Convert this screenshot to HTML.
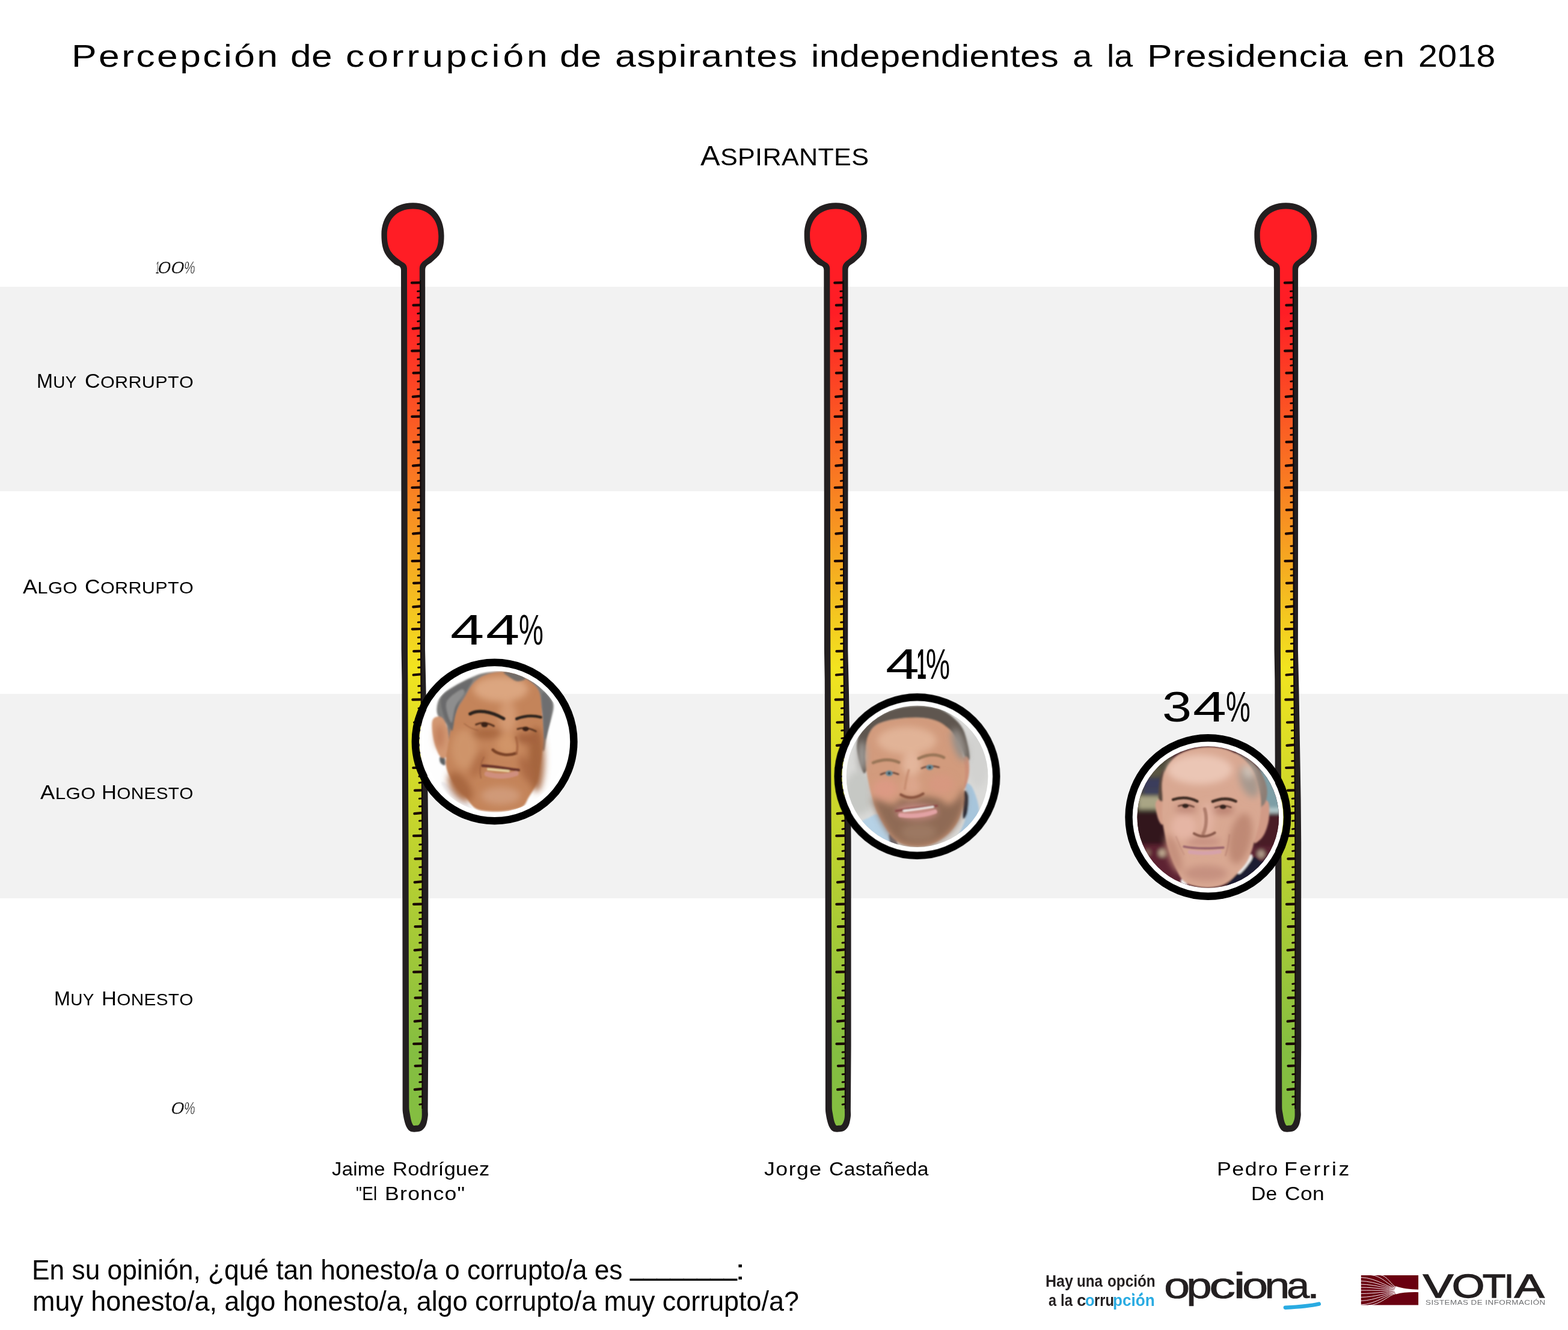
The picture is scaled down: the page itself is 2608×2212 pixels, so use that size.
<!DOCTYPE html>
<html lang="es">
<head>
<meta charset="utf-8">
<title>Percepción de corrupción de aspirantes independientes a la Presidencia en 2018</title>
<style>
html,body{margin:0;padding:0;background:#fff;}
body{width:2608px;height:2212px;overflow:hidden;}
#page{position:relative;width:2608px;height:2212px;overflow:hidden;background:#fff;
  font-family:"Liberation Sans",sans-serif;color:#000;font-kerning:none;}
.band{position:absolute;left:0;width:2608px;background:#f2f2f2;}
#art{position:absolute;left:0;top:0;}
.t{position:absolute;white-space:nowrap;line-height:1;margin:0;padding:0;font-weight:400;transform-origin:0 50%;}
h1,h2,p,ul,li,figure,figcaption{margin:0;padding:0;font-weight:400;font-size:inherit;list-style:none;}
</style>
</head>
<body>
<div id="page">
<div class="band" style="top:477.0px;height:340.0px"></div>
<div class="band" style="top:1154.0px;height:340.0px"></div>
<svg id="art" width="2608" height="2212" viewBox="0 0 2608 2212">
<defs>
<linearGradient id="heat" gradientUnits="userSpaceOnUse" x1="0" y1="445" x2="0" y2="1872">
<stop offset="0" stop-color="#ff1d25"/>
<stop offset="0.0526" stop-color="#ff1d25"/>
<stop offset="0.466" stop-color="#f2e41f"/>
<stop offset="0.9145" stop-color="#84be41"/>
<stop offset="1" stop-color="#84be41"/>
</linearGradient>
<filter id="b1" x="-20%" y="-20%" width="140%" height="140%"><feGaussianBlur stdDeviation="1"/></filter>
<filter id="b2" x="-20%" y="-20%" width="140%" height="140%"><feGaussianBlur stdDeviation="1.6"/></filter>
<filter id="b3" x="-20%" y="-20%" width="140%" height="140%"><feGaussianBlur stdDeviation="3"/></filter>
<filter id="b6" x="-30%" y="-30%" width="160%" height="160%"><feGaussianBlur stdDeviation="6"/></filter>
<filter id="b10" x="-40%" y="-40%" width="180%" height="180%"><feGaussianBlur stdDeviation="10"/></filter>
</defs>
<defs><g id="thermo"><path d="M686.8 337.3C719.4 337.3 738.6 359.6 738.6 392.3C738.6 420.0 730.2 425.4 717.5 436.5C712.5 440.3 707.5 441.0 707.2 449.0L707.2 810.0L707.0 1080.0L708.6 1150.0L711.7 1330.0L712.3 1400.0L712.3 1740.0L711.6 1846.2C711.6 1850.5 712.2 1852.6 711.6 1856.9C711.0 1861.2 710.0 1868.3 708.1 1872.3C706.2 1876.3 703.6 1879.1 700.4 1880.8C697.2 1882.5 692.1 1882.7 688.9 1882.7C685.7 1882.7 683.4 1882.3 681.2 1880.8C679.0 1879.3 677.2 1876.5 675.8 1873.8C674.4 1871.1 673.6 1868.0 672.7 1864.6C671.8 1861.1 670.9 1856.6 670.4 1853.1C669.9 1849.6 669.6 1847.5 669.6 1843.8L669.6 1700.0L669.2 1400.0L668.4 1130.0L667.6 1080.0L667.4 810.0L667.0 449.0C666.7 441.0 661.5 443.0 656.5 439.5C643.2 427.7 634.4 419.8 634.4 390.3C634.4 359.6 653.8 337.3 686.8 337.3Z" fill="#231f20"/><path d="M686.8 347.4C713.6 347.4 729.3 365.6 729.3 392.8C729.3 417.2 720.8 421.7 708.0 431.5C703.0 435.3 698.1 438.5 697.8 446.5L698.4 810.0L699.0 1080.0L699.8 1150.0L701.5 1330.0L702.0 1400.0L702.2 1740.0L701.6 1841.5C701.6 1847.7 701.9 1853.1 701.6 1856.9C701.3 1860.8 700.8 1862.3 700.0 1864.6C699.2 1866.9 698.1 1869.6 696.6 1870.8C695.1 1872.0 692.8 1871.7 691.2 1871.8C689.7 1871.9 688.5 1872.6 687.3 1871.4C686.1 1870.2 685.1 1867.6 684.2 1864.6C683.3 1861.5 682.5 1856.9 681.9 1853.1C681.3 1849.2 680.4 1846.1 680.4 1841.5L680.0 1700.0L679.5 1400.0L678.3 1130.0L678.0 1080.0L677.6 810.0L677.0 446.5C676.7 438.5 671.0 437.0 666.0 433.5C652.7 423.3 643.8 416.4 643.8 390.8C643.8 365.6 659.7 347.4 686.8 347.4Z" fill="url(#heat)"/><path d="M685.0 470.4 L697.6 470.1 M687.5 507.6 L697.7 507.3 M686.7 546.6 L697.7 545.6 M685.2 583.7 L697.8 583.4 M687.6 620.4 L697.8 620.1 M686.8 659.9 L697.8 658.9 M685.3 692.9 L697.9 692.6 M687.7 735.1 L697.9 734.8 M687.0 774.6 L698.0 773.6 M685.4 811.0 L698.0 810.7 M687.9 848.2 L698.1 847.9 M687.1 887.6 L698.1 886.6 M685.6 933.1 L698.2 932.8 M688.0 969.8 L698.2 969.5 M687.3 1009.3 L698.3 1008.3 M685.8 1046.3 L698.4 1046.0 M688.2 1083.1 L698.4 1082.8 M687.7 1122.5 L698.7 1121.5 M686.4 1163.7 L699.0 1163.4 M689.1 1201.5 L699.3 1201.2 M688.6 1239.9 L699.6 1238.9 M687.3 1277.0 L699.9 1276.7 M690.0 1314.7 L700.2 1314.4 M689.4 1353.2 L700.4 1352.2 M688.0 1390.2 L700.6 1389.9 M690.5 1428.4 L700.7 1428.1 M689.7 1467.4 L700.7 1466.4 M688.1 1503.9 L700.7 1503.6 M690.5 1541.2 L700.7 1540.9 M689.7 1580.3 L700.7 1579.3 M688.1 1616.7 L700.7 1616.4 M690.6 1659.6 L700.8 1659.3 M689.8 1698.7 L700.8 1697.7 M688.2 1736.1 L700.8 1735.8 M690.6 1772.8 L700.8 1772.5 M689.8 1812.1 L700.8 1811.1" fill="none" stroke="#1a0606" stroke-width="4.2" stroke-linecap="round"/><path d="M694.6 484.5 L697.8 484.2 M694.7 495.0 L697.9 494.7 M694.7 521.4 L697.9 521.1 M694.7 534.4 L697.9 534.1 M694.7 558.8 L697.9 558.5 M694.7 572.4 L697.9 572.1 M694.8 597.6 L698.0 597.3 M694.8 607.9 L698.0 607.6 M694.8 634.4 L698.0 634.1 M694.8 647.6 L698.0 647.3 M694.8 670.7 L698.0 670.4 M694.9 682.8 L698.1 682.5 M694.9 712.3 L698.1 712.0 M694.9 723.3 L698.1 723.0 M694.9 749.1 L698.1 748.8 M694.9 762.3 L698.1 762.0 M695.0 786.5 L698.2 786.2 M695.0 799.9 L698.2 799.6 M695.0 825.1 L698.2 824.8 M695.0 835.6 L698.2 835.3 M695.1 862.1 L698.3 861.8 M695.1 875.3 L698.3 875.0 M695.1 908.2 L698.3 907.9 M695.2 920.2 L698.4 919.9 M695.2 947.0 L698.4 946.7 M695.2 957.3 L698.4 957.0 M695.3 983.8 L698.5 983.5 M695.3 997.0 L698.5 996.7 M695.3 1021.4 L698.5 1021.1 M695.3 1035.0 L698.5 1034.7 M695.4 1060.3 L698.6 1060.0 M695.4 1070.6 L698.6 1070.3 M695.5 1097.0 L698.7 1096.7 M695.6 1110.2 L698.8 1109.9 M695.8 1141.1 L699.0 1140.8 M695.9 1152.0 L699.1 1151.7 M696.1 1178.1 L699.3 1177.8 M696.2 1188.6 L699.4 1188.3 M696.4 1215.1 L699.6 1214.8 M696.5 1227.9 L699.7 1227.6 M696.7 1252.1 L699.9 1251.8 M696.8 1265.7 L700.0 1265.4 M697.0 1291.3 L700.2 1291.0 M697.1 1301.9 L700.3 1301.6 M697.3 1328.3 L700.5 1328.0 M697.4 1341.2 L700.6 1340.9 M697.5 1365.3 L700.7 1365.0 M697.6 1378.9 L700.8 1378.6 M697.7 1404.7 L700.9 1404.4 M697.7 1415.4 L700.9 1415.1 M697.7 1442.2 L700.9 1441.9 M697.7 1455.2 L700.9 1454.9 M697.7 1479.3 L700.9 1479.0 M697.7 1492.7 L700.9 1492.4 M697.7 1518.1 L700.9 1517.8 M697.7 1528.5 L700.9 1528.2 M697.7 1555.0 L700.9 1554.7 M697.7 1568.1 L700.9 1567.8 M697.7 1592.2 L700.9 1591.9 M697.7 1605.6 L700.9 1605.3 M697.8 1636.4 L701.0 1636.1 M697.8 1647.6 L701.0 1647.3 M697.8 1673.4 L701.0 1673.1 M697.8 1686.5 L701.0 1686.2 M697.8 1711.0 L701.0 1710.7 M697.8 1724.7 L701.0 1724.4 M697.8 1750.0 L701.0 1749.7 M697.8 1760.3 L701.0 1760.0 M697.8 1786.7 L701.0 1786.4 M697.8 1799.8 L701.0 1799.5 M697.8 1824.0 L701.0 1823.7 M697.8 1836.9 L701.0 1836.6" fill="none" stroke="#1a0606" stroke-width="3" stroke-linecap="round"/><path d="M699.3 466.0 L699.6 810.0 L700.0 1080.0 L700.5 1150.0 L701.9 1330.0 L702.3 1400.0 L702.4 1844.0" fill="none" stroke="#120808" stroke-width="1.8"/></g></defs>
<use href="#thermo" x="0.0" y="0"/>
<use href="#thermo" x="703.3" y="0"/>
<use href="#thermo" x="1451.9" y="0"/>
<g transform="translate(822.6 1233.5)">
<circle r="125" fill="#fff"/>
<clipPath id="cp0"><circle r="117.8"/></clipPath>
<g clip-path="url(#cp0)"><rect x="-120" y="-120" width="240" height="240" fill="#fefefe"/><g filter="url(#b2)"><path d="M-94.9 -44.9C-97.2 -51.2 -96.0 -60.2 -94.1 -66.2C-92.2 -72.3 -88.5 -76.4 -83.4 -81.0C-78.3 -85.7 -70.8 -90.1 -63.7 -94.2C-56.6 -98.3 -48.3 -102.4 -40.7 -105.7C-33.0 -109.0 -27.0 -112.0 -17.7 -113.9C-8.3 -115.8 5.9 -117.1 15.2 -117.2C24.5 -117.3 30.3 -117.2 38.2 -114.7C46.2 -112.3 55.8 -107.2 62.9 -102.4C70.0 -97.6 75.8 -91.2 81.0 -86.0C86.2 -80.8 91.3 -75.8 94.1 -71.2C97.0 -66.5 98.2 -63.5 98.2 -58.0C98.2 -52.5 95.9 -45.4 94.1 -38.3C92.4 -31.2 89.5 -24.0 87.6 -15.3C85.6 -6.5 84.1 11.0 82.6 14.3C81.1 17.6 79.6 17.1 78.5 4.5C77.4 -8.1 85.5 -45.7 76.0 -61.3C66.6 -76.9 40.7 -86.5 21.8 -89.2C2.9 -92.0 -23.7 -86.2 -37.4 -77.7C-51.1 -69.2 -55.2 -50.9 -60.4 -38.3C-65.6 -25.7 -65.9 -7.9 -68.6 -2.1C-71.4 3.6 -74.9 0.6 -76.8 -3.8C-78.8 -8.1 -77.1 -21.6 -80.1 -28.4C-83.1 -35.3 -92.6 -38.6 -94.9 -44.9Z" fill="#7d7d7c" /><path d="M-90.8 25.8C-89.7 24.5 -84.8 24.5 -83.4 26.6C-82.0 28.8 -81.5 37.6 -82.6 39.0C-83.7 40.3 -88.6 37.1 -90.0 34.9C-91.4 32.7 -91.9 27.2 -90.8 25.8Z" fill="#5c6062" /><path d="M-104.0 -31.7C-103.3 -37.1 -101.1 -39.5 -98.2 -40.8C-95.3 -42.0 -90.0 -42.3 -86.7 -39.1C-83.4 -36.0 -80.3 -29.1 -78.5 -21.8C-76.7 -14.6 -75.9 -3.2 -76.0 4.5C-76.2 12.1 -77.1 20.6 -79.3 24.2C-81.5 27.7 -86.3 27.7 -89.2 25.8C-92.0 23.9 -94.4 18.4 -96.6 12.7C-98.8 6.9 -101.1 -1.3 -102.3 -8.7C-103.6 -16.1 -104.6 -26.4 -104.0 -31.7Z" fill="#d39873" /><path d="M-88.3 70.2C-89.3 67.1 -87.2 65.5 -82.6 68.2C-77.9 71.0 -67.9 79.5 -60.4 86.7C-52.9 93.8 -37.9 108.6 -37.4 111.3C-36.8 114.1 -50.5 107.2 -57.1 103.1C-63.7 99.0 -71.6 92.1 -76.8 86.7C-82.0 81.2 -87.4 73.3 -88.3 70.2Z" fill="#eeeef2" /><path d="M-50.5 -72.8C-46.2 -79.9 -42.3 -88.3 -37.4 -94.2C-32.5 -100.1 -27.5 -104.6 -20.9 -108.2C-14.4 -111.7 -5.6 -114.5 2.1 -115.6C9.7 -116.6 16.9 -116.5 25.1 -114.7C33.3 -112.9 43.4 -109.7 51.4 -104.9C59.3 -100.1 68.1 -94.9 72.8 -86.0C77.4 -77.1 77.9 -63.8 79.3 -51.4C80.8 -39.1 81.4 -24.0 81.3 -12.0C81.2 0.1 79.8 10.5 78.5 20.9C77.2 31.3 75.2 42.0 73.6 50.5C71.9 59.0 71.5 64.7 68.7 71.9C65.8 79.0 60.0 87.2 56.3 93.2C52.6 99.3 52.2 104.4 46.5 108.0C40.7 111.6 30.8 113.6 21.8 114.9C12.8 116.2 1.2 116.7 -7.8 115.9C-16.8 115.2 -25.3 115.1 -32.5 110.5C-39.6 105.9 -44.2 95.8 -50.5 88.3C-56.8 80.8 -65.2 73.5 -70.3 65.3C-75.3 57.1 -79.7 48.6 -80.9 39.0C-82.2 29.4 -79.2 18.4 -77.7 7.7C-76.2 -2.9 -74.2 -15.3 -71.9 -25.1C-69.6 -35.0 -67.2 -43.5 -63.7 -51.4C-60.1 -59.4 -54.9 -65.7 -50.5 -72.8Z" fill="#c4845a" /></g><g filter="url(#b6)"><ellipse cx="10.3" cy="-87.6" rx="46.0" ry="21.4" fill="#dca680"/><ellipse cx="21.8" cy="-41.6" rx="14.8" ry="26.3" fill="#d49a72"/><ellipse cx="-50.5" cy="12.7" rx="21.4" ry="32.9" fill="#cf946a"/><ellipse cx="21.8" cy="4.5" rx="18.1" ry="18.1" fill="#d19468"/><ellipse cx="10.3" cy="89.9" rx="32.9" ry="14.8" fill="#d09a78"/><ellipse cx="69.5" cy="29.1" rx="13.2" ry="54.2" fill="#a5653e"/><ellipse cx="-57.1" cy="75.1" rx="14.8" ry="27.9" fill="#a9683f" transform="rotate(-35 -57.1 75.1)"/><ellipse cx="-12.7" cy="-13.6" rx="24.7" ry="9.0" fill="#a9673f"/><ellipse cx="54.7" cy="-5.4" rx="21.4" ry="9.0" fill="#a4623c"/><ellipse cx="-27.5" cy="37.3" rx="9.9" ry="24.7" fill="#b47148" transform="rotate(25 -27.5 37.3)"/><ellipse cx="51.4" cy="45.6" rx="8.2" ry="23.0" fill="#ad6a44" transform="rotate(-20 51.4 45.6)"/><ellipse cx="-91.6" cy="-8.7" rx="6.6" ry="19.7" fill="#c07c58"/></g><g filter="url(#b2)"><path d="M-88.3 -72.8C-85.1 -80.5 -73.8 -85.7 -65.3 -90.9C-56.8 -96.1 -40.9 -104.3 -37.4 -104.0C-33.8 -103.8 -40.7 -95.0 -44.0 -89.2C-47.2 -83.5 -53.5 -76.9 -57.1 -69.5C-60.7 -62.1 -63.1 -53.4 -65.3 -44.9C-67.5 -36.4 -68.3 -21.3 -70.3 -18.6C-72.2 -15.8 -74.4 -24.0 -76.8 -28.4C-79.3 -32.8 -83.1 -37.5 -85.1 -44.9C-87.0 -52.3 -91.6 -65.1 -88.3 -72.8Z" fill="#6b6b6c" /><path d="M-80.1 -64.6C-77.7 -73.6 -62.0 -83.2 -57.1 -86.0C-52.2 -88.7 -49.2 -85.7 -50.5 -81.0C-51.9 -76.4 -61.8 -66.2 -65.3 -58.0C-68.9 -49.8 -69.4 -30.6 -71.9 -31.7C-74.4 -32.8 -82.6 -55.5 -80.1 -64.6Z" fill="#8e8e8e" /><path d="M79.3 -81.0C81.4 -87.3 91.9 -73.4 94.1 -66.2C96.3 -59.1 94.1 -48.7 92.5 -38.3C90.8 -27.9 86.0 -5.4 84.3 -3.8C82.5 -2.1 82.6 -15.5 81.8 -28.4C81.0 -41.3 77.3 -74.7 79.3 -81.0Z" fill="#6e6e70" /><path d="M15.2 -115.9C17.1 -117.0 30.6 -115.7 36.6 -113.9C42.6 -112.1 51.1 -107.1 51.4 -104.9C51.7 -102.6 42.6 -100.1 38.2 -100.4C33.9 -100.8 28.9 -104.4 25.1 -107.0C21.3 -109.6 13.3 -114.7 15.2 -115.9Z" fill="#726c68" /></g><g filter="url(#b1)"><path d="M-40.7 -46.2C-27.5 -53.4 -7.8 -51.4 15.2 -38.3" fill="none" stroke="#2b221d" stroke-width="5.3" stroke-linecap="round"/><path d="M36.6 -38.0C51.4 -43.9 64.5 -43.9 76.9 -40.6" fill="none" stroke="#2b221d" stroke-width="4.6" stroke-linecap="round"/><path d="M-30.8 -28.4Q-17.7 -34.7 -1.2 -26.0" fill="none" stroke="#5a3424" stroke-width="3.3" stroke-linecap="round"/><ellipse cx="-16.7" cy="-28.4" rx="5.6" ry="4.3" fill="#3a2016"/><path d="M38.2 -21.0Q52.2 -26.0 68.7 -17.2" fill="none" stroke="#5a3424" stroke-width="3.0" stroke-linecap="round"/><ellipse cx="51.7" cy="-21.2" rx="5.3" ry="3.9" fill="#3a2016"/><path d="M-50.5 -30.1Q-40.7 -21.8 -27.5 -18.6" fill="none" stroke="#9a5c3a" stroke-width="1.6" stroke-linecap="round" opacity="0.7"/><path d="M-2.9 13.5C5.4 21.7 23.4 24.2 35.8 19.3" fill="none" stroke="#7a4228" stroke-width="4.9" stroke-linecap="round"/><path d="M35.8 -7.1Q39.9 7.7 36.6 19.3" fill="none" stroke="#a5633e" stroke-width="3.9" stroke-linecap="round" opacity="0.8"/><path d="M-20.1 40.0C2.1 40.6 21.8 45.6 40.2 47.2" fill="none" stroke="#6b3629" stroke-width="4.3" stroke-linecap="round"/><path d="M-11.1 45.9Q5.4 47.2 23.4 48.8" fill="none" stroke="#ead9a6" stroke-width="3.3" stroke-linecap="round"/><path d="M-12.7 53.8Q10.3 61.2 35.8 53.0" fill="none" stroke="#cf8f7e" stroke-width="8.5" stroke-linecap="round"/><path d="M-17.7 25.8Q-27.5 42.3 -22.6 60.3" fill="none" stroke="#9a5a3a" stroke-width="2.3" stroke-linecap="round" opacity="0.6"/></g></g>
<circle r="131.8" fill="none" stroke="#000" stroke-width="12.4"/>
</g>
<g transform="translate(1525.5 1291.2)">
<circle r="125" fill="#fff"/>
<clipPath id="cp1"><circle r="117.8"/></clipPath>
<g clip-path="url(#cp1)"><rect x="-120" y="-120" width="240" height="240" fill="#dadad8"/><g filter="url(#b6)"><ellipse cx="-96.2" cy="27.5" rx="26.3" ry="36.2" fill="#c6c8c4"/><ellipse cx="101.1" cy="-30.1" rx="19.7" ry="49.3" fill="#d2d2d0"/></g><g filter="url(#b2)"><path d="M-96.2 78.4C-94.8 74.0 -84.7 71.1 -79.7 68.6C-74.8 66.0 -71.1 62.2 -66.6 63.3C-62.1 64.4 -56.2 69.3 -52.6 75.1C-49.0 80.9 -47.5 91.0 -45.2 98.1C-42.9 105.3 -35.1 115.7 -38.6 117.9C-42.2 120.1 -58.4 115.1 -66.6 111.3C-74.8 107.5 -83.0 100.3 -88.0 94.9C-92.9 89.4 -97.5 82.8 -96.2 78.4Z" fill="#b6d2e6" /><path d="M80.6 12.7C81.9 9.4 88.4 12.4 92.1 19.2C95.8 26.1 102.1 44.4 102.7 53.8C103.4 63.1 99.5 68.8 96.2 75.1C92.9 81.4 87.7 87.2 83.0 91.6C78.4 96.0 68.8 104.7 68.2 101.4C67.7 98.1 77.1 82.3 79.7 71.8C82.3 61.4 83.7 48.8 83.8 39.0C84.0 29.1 79.2 15.9 80.6 12.7Z" fill="#a7c5db" /><path d="M-46.9 96.5C-45.8 94.3 -39.5 97.9 -37.0 101.4C-34.5 105.0 -31.0 115.7 -32.1 117.9C-33.2 120.1 -41.1 118.1 -43.6 114.6C-46.0 111.0 -47.9 98.7 -46.9 96.5Z" fill="#6c686e" /><path d="M78.1 25.8C79.5 19.8 84.1 26.6 85.0 32.4C85.9 38.1 84.8 54.3 83.3 60.3C81.9 66.4 77.3 74.3 76.4 68.6C75.6 62.8 76.7 31.8 78.1 25.8Z" fill="#1c2030" /><path d="M-100.3 -49.8C-100.3 -57.2 -99.0 -63.5 -96.2 -69.5C-93.3 -75.6 -89.0 -80.5 -83.0 -86.0C-77.0 -91.5 -68.8 -97.8 -60.0 -102.4C-51.2 -107.0 -40.8 -111.1 -30.4 -113.6C-20.0 -116.1 -8.5 -117.4 2.5 -117.2C13.4 -117.0 25.8 -115.8 35.3 -112.6C44.9 -109.4 53.3 -103.3 60.0 -97.8C66.7 -92.3 71.6 -86.9 75.6 -79.4C79.6 -71.9 81.9 -61.3 83.8 -53.1C85.8 -44.9 87.4 -34.7 87.1 -30.1C86.9 -25.4 84.0 -23.5 82.2 -25.2C80.4 -26.8 79.0 -34.2 76.4 -39.9C73.8 -45.7 70.7 -53.1 66.6 -59.7C62.5 -66.3 59.7 -73.4 51.8 -79.4C43.8 -85.4 32.6 -93.1 18.9 -95.8C5.2 -98.6 -16.2 -97.5 -30.4 -95.8C-44.7 -94.2 -58.1 -90.9 -66.6 -86.0C-75.1 -81.0 -78.1 -75.0 -81.4 -66.3C-84.7 -57.5 -85.9 -42.1 -86.3 -33.4C-86.7 -24.6 -83.4 -18.3 -83.8 -13.6C-84.3 -9.0 -86.7 -3.5 -88.8 -5.4C-90.8 -7.3 -94.3 -17.8 -96.2 -25.2C-98.1 -32.5 -100.3 -42.4 -100.3 -49.8Z" fill="#5f574f" /><path d="M76.4 -30.1C78.4 -35.6 83.0 -33.4 84.7 -30.1C86.4 -26.8 86.8 -16.7 86.6 -10.4C86.5 -4.1 85.3 2.5 83.8 7.7C82.4 12.9 79.9 21.7 78.1 20.9C76.3 20.1 73.4 11.3 73.2 2.8C72.9 -5.7 74.5 -24.6 76.4 -30.1Z" fill="#cd9078" /><path d="M-85.5 -46.5C-84.6 -56.1 -83.4 -64.3 -79.7 -71.2C-76.0 -78.0 -71.5 -83.6 -63.3 -87.6C-55.1 -91.7 -41.4 -93.9 -30.4 -95.5C-19.5 -97.1 -7.9 -97.7 2.5 -97.2C12.9 -96.6 23.8 -95.2 32.1 -92.2C40.3 -89.3 46.0 -84.8 51.8 -79.4C57.5 -74.0 62.5 -67.3 66.6 -59.7C70.7 -52.0 74.3 -42.4 76.4 -33.4C78.6 -24.3 79.5 -14.2 79.7 -5.4C80.0 3.3 78.6 10.7 78.1 19.2C77.5 27.7 78.1 36.5 76.4 45.5C74.8 54.6 72.3 65.2 68.2 73.5C64.1 81.8 58.6 88.8 51.8 95.2C44.9 101.5 35.3 108.1 27.1 111.6C18.9 115.2 10.7 116.3 2.5 116.6C-5.8 116.8 -15.1 115.7 -22.2 113.3C-29.3 110.8 -34.5 107.5 -40.3 101.8C-46.0 96.0 -51.8 87.0 -56.7 78.7C-61.6 70.5 -65.8 62.0 -69.5 52.1C-73.2 42.2 -76.3 30.2 -78.9 19.2C-81.5 8.3 -83.9 -2.7 -85.0 -13.6C-86.1 -24.6 -86.4 -36.9 -85.5 -46.5Z" fill="#d29b7d" /></g><g filter="url(#b6)"><ellipse cx="-92.1" cy="-33.4" rx="6.6" ry="26.3" fill="#a9a6a3"/><ellipse cx="69.9" cy="-53.1" rx="9.9" ry="27.9" fill="#96908a" transform="rotate(-18 69.9 -53.1)"/><ellipse cx="-17.3" cy="-59.7" rx="49.3" ry="23.0" fill="#e1b397"/><ellipse cx="-9.0" cy="-20.2" rx="16.4" ry="19.7" fill="#e3b69c"/><ellipse cx="-53.4" cy="20.9" rx="21.4" ry="16.4" fill="#dc9a84"/><ellipse cx="40.3" cy="12.7" rx="21.4" ry="16.4" fill="#d79880"/><ellipse cx="-9.0" cy="15.9" rx="14.8" ry="14.8" fill="#dca68c"/><path d="M-74.8 35.7C-72.7 34.0 -62.7 40.3 -56.7 42.2C-50.7 44.2 -43.6 48.0 -38.6 47.2C-33.7 46.4 -32.1 38.7 -27.1 37.3C-22.2 35.9 -15.6 39.5 -9.0 39.0C-2.5 38.4 4.9 34.3 12.3 34.0C19.7 33.8 28.8 35.1 35.3 37.3C41.9 39.5 46.3 47.5 51.8 47.2C57.3 46.9 64.0 40.3 68.2 35.7C72.5 31.0 75.6 17.6 77.3 19.2C79.0 20.9 79.9 36.4 78.4 45.5C76.9 54.6 72.7 65.5 68.2 73.8C63.8 82.1 58.6 88.9 51.8 95.2C44.9 101.5 35.3 108.1 27.1 111.6C18.9 115.2 10.7 116.3 2.5 116.6C-5.8 116.8 -15.1 115.7 -22.2 113.3C-29.3 110.8 -34.5 107.5 -40.3 101.8C-46.0 96.0 -51.8 87.0 -56.7 78.7C-61.6 70.5 -66.5 59.3 -69.5 52.1C-72.6 44.9 -76.9 37.3 -74.8 35.7Z" fill="#8f6a54" /><ellipse cx="-0.8" cy="58.7" rx="34.5" ry="11.5" fill="#c98c84"/><ellipse cx="2.5" cy="93.2" rx="29.6" ry="14.8" fill="#9c7862"/></g><g filter="url(#b1)"><path d="M-73.2 -22.7C-56.7 -29.3 -43.6 -29.3 -30.4 -23.2" fill="none" stroke="#9a7658" stroke-width="4.9" stroke-linecap="round"/><path d="M2.5 -29.8C18.9 -37.5 32.1 -37.5 44.4 -31.4" fill="none" stroke="#9a7658" stroke-width="4.9" stroke-linecap="round"/><path d="M-60.8 -3.0Q-46.9 -10.0 -31.2 -3.5" fill="none" stroke="#6e4a3a" stroke-width="2.6" stroke-linecap="round"/><ellipse cx="-46.5" cy="-5.1" rx="5.9" ry="4.6" fill="#6a8b99"/><ellipse cx="-46.5" cy="-5.1" rx="2.3" ry="2.3" fill="#2e3a40"/><path d="M7.4 -13.3Q20.9 -19.9 36.2 -15.0" fill="none" stroke="#6e4a3a" stroke-width="2.6" stroke-linecap="round"/><ellipse cx="20.9" cy="-15.0" rx="5.9" ry="4.6" fill="#6a8b99"/><ellipse cx="20.9" cy="-15.0" rx="2.3" ry="2.3" fill="#2e3a40"/><path d="M-27.1 30.4C-15.6 37.0 -2.5 37.0 9.9 28.8" fill="none" stroke="#8a5440" stroke-width="4.6" stroke-linecap="round"/><path d="M-14.0 -10.4Q-18.9 6.1 -20.5 20.9" fill="none" stroke="#c08468" stroke-width="3.6" stroke-linecap="round" opacity="0.7"/><path d="M-35.3 57.4C-10.7 52.9 12.3 51.3 32.9 48.8" fill="none" stroke="#8e4a48" stroke-width="3.6" stroke-linecap="round"/><path d="M-22.2 57.4Q2.5 54.6 26.3 50.8" fill="none" stroke="#efe9e6" stroke-width="3.6" stroke-linecap="round"/><path d="M-27.9 64.4Q2.5 68.6 29.6 58.7" fill="none" stroke="#e2a2a4" stroke-width="7.2" stroke-linecap="round"/></g></g>
<circle r="131.8" fill="none" stroke="#000" stroke-width="12.4"/>
</g>
<g transform="translate(2009.3 1359.0)">
<circle r="125" fill="#fff"/>
<clipPath id="cp2"><circle r="117.8"/></clipPath>
<g clip-path="url(#cp2)"><rect x="-120" y="-120" width="240" height="240" fill="#3f1a22"/><g filter="url(#b3)"><rect x="-125.6" y="-128.6" width="65.8" height="120.0" fill="#4a4639" /><rect x="-109.2" y="-64.4" width="32.9" height="18.1" fill="#3a3e5c" /><rect x="-115.7" y="-34.9" width="39.5" height="21.4" fill="#a9a585" /><rect x="-107.5" y="-44.7" width="31.2" height="6.6" fill="#3d4266" /><rect x="-120.7" y="-82.5" width="44.4" height="14.8" fill="#5a5643" /><rect x="-125.6" y="-8.5" width="95.3" height="54.2" fill="#33171b" /><rect x="-125.6" y="45.7" width="95.3" height="88.8" fill="#5d2231" /><rect x="84.8" y="-95.7" width="49.3" height="80.6" fill="#7d9ea6" /><rect x="84.8" y="-15.1" width="49.3" height="8.2" fill="#b9cfd2" /><rect x="81.5" y="-6.9" width="52.6" height="55.9" fill="#481b25" /><rect x="68.4" y="49.0" width="65.8" height="36.2" fill="#5a2230" /><ellipse cx="-76.3" cy="59.7" rx="6.2" ry="6.6" fill="#bda890"/><ellipse cx="-100.1" cy="58.9" rx="4.6" ry="5.3" fill="#8c6c60"/><ellipse cx="88.1" cy="61.3" rx="6.2" ry="6.9" fill="#b19b8a"/></g><g filter="url(#b2)"><path d="M28.9 121.3C25.6 114.2 41.3 100.8 48.7 91.7C56.1 82.7 66.5 70.1 73.3 67.1C80.2 64.1 83.5 75.0 89.8 73.6C96.1 72.3 105.4 54.2 111.1 58.9C116.9 63.5 131.4 89.0 124.3 101.6C117.2 114.2 84.3 131.2 68.4 134.5C52.5 137.8 32.2 128.4 28.9 121.3Z" fill="#1b1d33" /><path d="M48.7 86.8C51.5 81.6 66.4 65.2 70.4 62.5C74.3 59.8 75.3 65.5 72.5 70.7C69.7 75.9 57.6 91.0 53.6 93.7C49.6 96.4 45.9 92.0 48.7 86.8Z" fill="#efeeed" /><path d="M-45.0 104.1C-44.2 102.7 -40.4 104.5 -38.5 106.5C-36.5 108.6 -32.7 115.0 -33.5 116.4C-34.4 117.8 -41.5 116.8 -43.4 114.7C-45.3 112.7 -45.9 105.4 -45.0 104.1Z" fill="#f0f0f0" /><path d="M-87.5 -20.1C-87.3 -25.5 -84.2 -29.4 -82.0 -29.9C-79.8 -30.5 -75.8 -28.8 -74.3 -23.3C-72.8 -17.9 -72.7 -3.1 -73.0 3.0C-73.3 9.0 -74.6 12.8 -76.3 12.8C-77.9 12.8 -81.0 8.4 -82.9 3.0C-84.7 -2.5 -87.6 -14.6 -87.5 -20.1Z" fill="#d49e88" /><path d="M91.4 -26.6C94.1 -31.0 99.3 -28.3 100.9 -23.3C102.6 -18.4 102.3 -5.3 101.3 3.0C100.2 11.2 97.4 19.9 94.7 26.0C92.0 32.0 87.8 36.7 84.8 39.1C81.8 41.6 76.6 46.8 76.6 40.8C76.6 34.7 82.4 14.2 84.8 3.0C87.3 -8.3 88.7 -22.2 91.4 -26.6Z" fill="#d19a86" /><path d="M43.7 -105.5C43.7 -110.2 61.5 -100.1 68.4 -95.7C75.2 -91.3 80.4 -85.3 84.8 -79.2C89.3 -73.2 92.8 -66.1 95.0 -59.5C97.3 -52.9 98.5 -46.1 98.3 -39.8C98.1 -33.5 96.4 -25.3 93.9 -21.7C91.3 -18.1 85.2 -14.3 83.2 -18.4C81.1 -22.5 84.0 -38.1 81.5 -46.4C79.1 -54.6 74.7 -57.9 68.4 -67.7C62.1 -77.6 43.7 -100.9 43.7 -105.5Z" fill="#8d7e75" /><path d="M-82.0 -29.9C-83.3 -34.9 -82.1 -51.3 -80.9 -59.5C-79.6 -67.7 -76.2 -79.2 -74.6 -79.2C-73.0 -79.2 -71.6 -67.7 -71.3 -59.5C-71.1 -51.3 -71.2 -34.9 -73.0 -29.9C-74.8 -25.0 -80.7 -25.0 -82.0 -29.9Z" fill="#5c4a40" /><path d="M-75.5 -29.9C-75.5 -38.7 -77.1 -48.0 -76.3 -56.2C-75.5 -64.4 -74.4 -71.8 -70.5 -79.2C-66.7 -86.7 -60.5 -95.3 -53.3 -100.9C-46.0 -106.6 -36.3 -110.3 -27.0 -112.9C-17.6 -115.6 -7.2 -116.9 2.6 -116.7C12.5 -116.6 22.9 -115.3 32.2 -112.1C41.5 -108.9 51.4 -103.3 58.5 -97.3C65.6 -91.3 70.6 -84.4 75.0 -75.9C79.3 -67.5 82.6 -55.7 84.8 -46.4C87.0 -37.0 88.1 -29.6 88.1 -20.1C88.1 -10.5 86.7 1.0 84.8 11.2C82.9 21.3 78.7 33.4 76.6 40.8C74.6 48.2 74.6 49.8 72.5 55.6C70.4 61.3 68.3 68.9 64.3 75.3C60.3 81.6 54.8 87.6 48.7 93.7C42.5 99.8 35.0 107.9 27.3 111.8C19.6 115.7 10.6 116.7 2.6 117.2C-5.3 117.8 -13.3 116.8 -20.4 115.1C-27.5 113.3 -34.6 111.8 -40.1 106.9C-45.6 101.9 -48.9 94.6 -53.3 85.5C-57.6 76.4 -62.7 63.3 -66.1 52.3C-69.5 41.3 -72.1 28.7 -73.8 19.4C-75.5 10.1 -76.0 4.6 -76.3 -3.6C-76.6 -11.8 -75.5 -21.2 -75.5 -29.9Z" fill="#d9a892" /></g><g filter="url(#b6)"><ellipse cx="-13.8" cy="-79.2" rx="54.2" ry="24.7" fill="#ebc6b5"/><ellipse cx="68.4" cy="-59.5" rx="14.8" ry="27.9" fill="#a8998e" transform="rotate(-20 68.4 -59.5)"/><ellipse cx="66.7" cy="-75.9" rx="8.2" ry="11.5" fill="#cfc3b8" transform="rotate(-20 66.7 -75.9)"/><ellipse cx="-40.1" cy="16.1" rx="21.4" ry="21.4" fill="#e5b5a4"/><ellipse cx="-0.7" cy="3.0" rx="9.9" ry="26.3" fill="#e3b3a2"/><ellipse cx="53.6" cy="35.8" rx="18.1" ry="42.7" fill="#bf8974" transform="rotate(12 53.6 35.8)"/><ellipse cx="-56.6" cy="60.5" rx="9.9" ry="32.9" fill="#c58f7b" transform="rotate(-18 -56.6 60.5)"/><ellipse cx="-36.8" cy="-13.5" rx="18.1" ry="7.4" fill="#c08878"/><ellipse cx="25.6" cy="-11.8" rx="18.1" ry="7.4" fill="#b98070"/><ellipse cx="-3.9" cy="93.4" rx="36.2" ry="13.2" fill="#c69180"/><ellipse cx="-7.2" cy="40.8" rx="29.6" ry="6.6" fill="#c58e80"/></g><g filter="url(#b1)"><path d="M-58.2 -29.1C-43.4 -34.0 -30.2 -32.4 -17.9 -26.3" fill="none" stroke="#3d2a23" stroke-width="4.6" stroke-linecap="round"/><path d="M7.6 -26.0C22.4 -31.9 35.5 -31.6 46.2 -26.3" fill="none" stroke="#3d2a23" stroke-width="4.6" stroke-linecap="round"/><path d="M-49.2 -18.4Q-37.6 -23.0 -23.7 -17.1" fill="none" stroke="#6a4438" stroke-width="2.6" stroke-linecap="round"/><ellipse cx="-37.6" cy="-18.7" rx="5.3" ry="3.6" fill="#33221f"/><path d="M11.7 -15.9Q24.8 -21.4 38.0 -16.4" fill="none" stroke="#6a4438" stroke-width="2.6" stroke-linecap="round"/><ellipse cx="24.8" cy="-17.1" rx="5.3" ry="3.6" fill="#33221f"/><path d="M-5.6 -13.5C-0.7 3.0 -3.9 19.4 -8.1 27.6" fill="none" stroke="#a06c5c" stroke-width="5.6" stroke-linecap="round" opacity="0.75"/><path d="M-23.3 27.3C-13.8 33.4 -0.7 33.9 11.2 26.0" fill="none" stroke="#8a5a4c" stroke-width="4.3" stroke-linecap="round"/><path d="M-40.1 49.0C-20.4 53.1 2.6 52.3 25.6 50.6" fill="none" stroke="#96606a" stroke-width="3.6" stroke-linecap="round"/><path d="M-30.2 58.0Q-5.6 61.8 19.1 57.5" fill="none" stroke="#d6a2aa" stroke-width="6.6" stroke-linecap="round"/><path d="M-53.3 32.5Q-46.7 49.0 -40.1 62.1" fill="none" stroke="#c08a7a" stroke-width="2.3" stroke-linecap="round" opacity="0.6"/><path d="M35.5 29.3Q33.9 49.0 28.9 63.8" fill="none" stroke="#b07a6a" stroke-width="2.3" stroke-linecap="round" opacity="0.6"/></g></g>
<circle r="131.8" fill="none" stroke="#000" stroke-width="12.4"/>
</g>
<g id="votia-mark"><rect x="2263.8" y="2121.0" width="95.3" height="49.5" fill="#6a0010"/><path d="M2359.6 2144.7 C2345 2144.5 2332 2142.5 2322 2139.2 L2319 2146 L2322 2152.5 C2332 2149.5 2345 2148.8 2359.6 2149.2 Z" fill="#fff"/><path d="M2295.5 2120.5 C2307.4 2121.5 2314.6 2138.1 2322.0 2140.5" fill="none" stroke="#fff" stroke-width="1" opacity="0.92"/><path d="M2280.0 2120.5 C2298.9 2121.6 2310.2 2139.0 2322.0 2141.5" fill="none" stroke="#fff" stroke-width="1" opacity="0.92"/><path d="M2263.0 2124.5 C2289.6 2125.4 2305.5 2140.3 2322.0 2142.5" fill="none" stroke="#fff" stroke-width="1" opacity="0.92"/><path d="M2263.0 2130.5 C2289.6 2131.2 2305.5 2141.9 2322.0 2143.5" fill="none" stroke="#fff" stroke-width="1" opacity="0.92"/><path d="M2263.0 2136.0 C2289.6 2136.4 2305.5 2143.5 2322.0 2144.5" fill="none" stroke="#fff" stroke-width="1" opacity="0.92"/><path d="M2263.0 2141.0 C2289.6 2141.2 2305.5 2145.0 2322.0 2145.5" fill="none" stroke="#fff" stroke-width="1" opacity="0.92"/><path d="M2263.0 2146.0 C2289.6 2146.0 2305.5 2146.4 2322.0 2146.5" fill="none" stroke="#fff" stroke-width="1" opacity="0.92"/><path d="M2263.0 2151.5 C2289.6 2151.3 2305.5 2148.0 2322.0 2147.5" fill="none" stroke="#fff" stroke-width="1" opacity="0.92"/><path d="M2263.0 2157.5 C2289.6 2157.1 2305.5 2149.6 2322.0 2148.5" fill="none" stroke="#fff" stroke-width="1" opacity="0.92"/><path d="M2263.0 2163.5 C2289.6 2162.8 2305.5 2151.2 2322.0 2149.5" fill="none" stroke="#fff" stroke-width="1" opacity="0.92"/><path d="M2263.0 2170.0 C2289.6 2169.0 2305.5 2152.8 2322.0 2150.5" fill="none" stroke="#fff" stroke-width="1" opacity="0.92"/><path d="M2276.0 2171.0 C2296.7 2170.0 2309.1 2153.8 2322.0 2151.5" fill="none" stroke="#fff" stroke-width="1" opacity="0.92"/></g><path d="M2137.8 2174.7 C2155 2173.8 2176 2172.6 2193.8 2168.6" fill="none" stroke="#29abe2" stroke-width="6.4" stroke-linecap="round"/><path d="M1884.2 2151.6 L1885.6 2153.2 M1895.8 2154.4 L1899.2 2150.8" fill="none" stroke="#29abe2" stroke-width="2.6" stroke-linecap="round"/>
</svg>
<h1><span class="t" style="left:118.68px;top:67.48px;font-size:52px;letter-spacing:2.86px;transform:scaleX(1.2000);">Percepción</span> <span class="t" style="left:483.19px;top:67.48px;font-size:52px;letter-spacing:0.30px;transform:scaleX(1.1967);">de</span> <span class="t" style="left:575.35px;top:67.48px;font-size:52px;letter-spacing:4.11px;transform:scaleX(1.2000);">corrupción</span> <span class="t" style="left:931.39px;top:67.48px;font-size:52px;letter-spacing:0.30px;transform:scaleX(1.1930);">de</span> <span class="t" style="left:1023.35px;top:67.48px;font-size:52px;letter-spacing:1.39px;transform:scaleX(1.2000);">aspirantes</span> <span class="t" style="left:1348.98px;top:67.48px;font-size:52px;letter-spacing:0.30px;transform:scaleX(1.1543);">independientes</span> <span class="t" style="left:1784.02px;top:67.48px;font-size:52px;transform:scaleX(1.1231);">a</span> <span class="t" style="left:1841.28px;top:67.48px;font-size:52px;letter-spacing:0.30px;transform:scaleX(1.0626);">la</span> <span class="t" style="left:1907.58px;top:67.48px;font-size:52px;letter-spacing:0.66px;transform:scaleX(1.2000);">Presidencia</span> <span class="t" style="left:2267.36px;top:67.48px;font-size:52px;letter-spacing:0.30px;transform:scaleX(1.1931);">en</span> <span class="t" style="left:2358.62px;top:67.48px;font-size:52px;letter-spacing:0.30px;transform:scaleX(1.1020);">2018</span></h1>
<h2><span class="t" style="left:1165.30px;top:234.81px;font-size:47px;letter-spacing:0.30px;transform:scaleX(1.0398);">A<span style="font-size:41.5px">SPIRANTES</span></span></h2>
<div><span class="t" style="left:259.03px;top:430.21px;font-size:30px;transform:scaleX(0.3514);font-style:italic;color:#111;-webkit-text-stroke:0.45px #fff;">1</span><span class="t" style="left:262.27px;top:430.21px;font-size:30px;transform:scaleX(1.3283);font-style:italic;color:#111;-webkit-text-stroke:0.45px #fff;">0</span><span class="t" style="left:284.25px;top:430.21px;font-size:30px;transform:scaleX(1.3415);font-style:italic;color:#111;-webkit-text-stroke:0.45px #fff;">0</span><span class="t" style="left:306.20px;top:430.21px;font-size:30px;transform:scaleX(0.7012);font-style:italic;color:#111;-webkit-text-stroke:0.45px #fff;">%</span></div>
<div><span class="t" style="left:284.25px;top:1828.40px;font-size:30px;transform:scaleX(1.3415);font-style:italic;color:#111;-webkit-text-stroke:0.45px #fff;">0</span><span class="t" style="left:306.20px;top:1828.40px;font-size:30px;transform:scaleX(0.7012);font-style:italic;color:#111;-webkit-text-stroke:0.45px #fff;">%</span></div>
<div><span class="t" style="left:61.35px;top:616.67px;font-size:33px;letter-spacing:0.30px;transform:scaleX(0.9791);">M<span style="font-size:28.5px">UY</span></span> <span class="t" style="left:140.90px;top:616.67px;font-size:33px;letter-spacing:0.30px;transform:scaleX(1.0732);">C<span style="font-size:28.5px">ORRUPTO</span></span></div>
<div><span class="t" style="left:37.93px;top:959.37px;font-size:33px;letter-spacing:0.30px;transform:scaleX(1.0898);">A<span style="font-size:28.5px">LGO</span></span> <span class="t" style="left:140.90px;top:959.37px;font-size:33px;letter-spacing:0.30px;transform:scaleX(1.0732);">C<span style="font-size:28.5px">ORRUPTO</span></span></div>
<div><span class="t" style="left:66.93px;top:1300.77px;font-size:33px;letter-spacing:0.44px;transform:scaleX(1.1000);">A<span style="font-size:28.5px">LGO</span></span> <span class="t" style="left:169.17px;top:1300.77px;font-size:33px;letter-spacing:0.30px;transform:scaleX(1.0444);">H<span style="font-size:28.5px">ONESTO</span></span></div>
<div><span class="t" style="left:90.35px;top:1643.57px;font-size:33px;letter-spacing:0.30px;transform:scaleX(0.9791);">M<span style="font-size:28.5px">UY</span></span> <span class="t" style="left:169.17px;top:1643.57px;font-size:33px;letter-spacing:0.30px;transform:scaleX(1.0444);">H<span style="font-size:28.5px">ONESTO</span></span></div>
<div><span class="t" style="left:748.68px;top:1011.90px;font-size:71px;transform:scaleX(1.4255);">4</span><span class="t" style="left:807.68px;top:1011.90px;font-size:71px;transform:scaleX(1.4255);">4</span><span class="t" style="left:862.76px;top:1011.90px;font-size:71px;transform:scaleX(0.6475);">%</span></div>
<div><span class="t" style="left:1472.70px;top:1068.70px;font-size:71px;transform:scaleX(1.4143);">4</span><span class="t" style="left:1524.64px;top:1068.70px;font-size:71px;transform:scaleX(0.3935);font-weight:700;">1</span><span class="t" style="left:1539.60px;top:1068.70px;font-size:71px;transform:scaleX(0.6337);">%</span></div>
<div><span class="t" style="left:1932.94px;top:1139.70px;font-size:71px;transform:scaleX(1.2417);">3</span><span class="t" style="left:1984.00px;top:1139.70px;font-size:71px;transform:scaleX(1.4143);">4</span><span class="t" style="left:2038.97px;top:1139.70px;font-size:71px;transform:scaleX(0.6458);">%</span></div>
<div><span class="t" style="left:551.79px;top:1929.16px;font-size:31px;letter-spacing:0.30px;transform:scaleX(1.0545);">Jaime</span> <span class="t" style="left:652.58px;top:1929.16px;font-size:31px;letter-spacing:0.30px;transform:scaleX(1.1080);">Rodríguez</span></div>
<div><span class="t" style="left:592.12px;top:1970.46px;font-size:31px;letter-spacing:0.30px;transform:scaleX(0.8972);">"El</span> <span class="t" style="left:639.78px;top:1970.46px;font-size:31px;letter-spacing:1.11px;transform:scaleX(1.1500);">Bronco"</span></div>
<div><span class="t" style="left:1271.44px;top:1929.16px;font-size:31px;letter-spacing:1.30px;transform:scaleX(1.1500);">Jorge</span> <span class="t" style="left:1378.69px;top:1929.16px;font-size:31px;letter-spacing:0.30px;transform:scaleX(1.0864);">Castañeda</span></div>
<div><span class="t" style="left:2024.08px;top:1929.16px;font-size:31px;letter-spacing:1.37px;transform:scaleX(1.1500);">Pedro</span> <span class="t" style="left:2135.88px;top:1929.16px;font-size:31px;letter-spacing:2.98px;transform:scaleX(1.1500);">Ferriz</span></div>
<div><span class="t" style="left:2080.96px;top:1970.46px;font-size:31px;letter-spacing:0.30px;transform:scaleX(1.0776);">De</span> <span class="t" style="left:2136.70px;top:1970.46px;font-size:31px;letter-spacing:0.30px;transform:scaleX(1.1414);">Con</span></div>
<p><span class="t" style="left:52.87px;top:2087.51px;font-size:47px;transform:scaleX(0.9424);">En su opinión, ¿qué tan honesto/a o corrupto/a es</span> <span class="t" style="left:1047.51px;top:2073.49px;font-size:54px;transform:scaleX(0.7411);">________</span><span class="t" style="left:1223.43px;top:2087.51px;font-size:47px;transform:scaleX(1.2514);">:</span></p>
<p><span class="t" style="left:53.52px;top:2139.71px;font-size:47px;transform:scaleX(0.9549);">muy honesto/a, algo honesto/a, algo corrupto/a muy corrupto/a?</span></p>
<div><span class="t" style="left:1739.32px;top:2116.78px;font-size:27.2px;transform:scaleX(0.9221);font-weight:700;color:#231f20;">Hay</span> <span class="t" style="left:1791.40px;top:2116.78px;font-size:27.2px;transform:scaleX(0.8881);font-weight:700;color:#231f20;">una</span> <span class="t" style="left:1841.95px;top:2116.78px;font-size:27.2px;transform:scaleX(0.8947);font-weight:700;color:#231f20;">opción</span></div>
<div><span class="t" style="left:1743.81px;top:2148.78px;font-size:27.2px;transform:scaleX(0.8619);font-weight:700;color:#231f20;">a</span> <span class="t" style="left:1763.93px;top:2148.78px;font-size:27.2px;transform:scaleX(0.8780);font-weight:700;color:#231f20;">la</span> <span class="t" style="left:1791.42px;top:2148.78px;font-size:27.2px;transform:scaleX(1.0175);font-weight:700;color:#231f20;">c</span><span class="t" style="left:1805.20px;top:2148.78px;font-size:27.2px;transform:scaleX(0.9386);font-weight:700;color:#29abe2;">o</span><span class="t" style="left:1820.04px;top:2148.78px;font-size:27.2px;transform:scaleX(0.8714);font-weight:700;color:#231f20;">rru</span><span class="t" style="left:1850.98px;top:2148.78px;font-size:27.2px;transform:scaleX(0.9602);font-weight:700;color:#29abe2;">pción</span></div>
<div><span class="t" style="left:1935.54px;top:2108.30px;font-size:60.6px;transform:scaleX(1.2826);color:#231f20;-webkit-text-stroke:0.7px #231f20;">o</span><span class="t" style="left:1972.74px;top:2108.30px;font-size:60.6px;transform:scaleX(1.2696);color:#231f20;-webkit-text-stroke:0.7px #231f20;">p</span><span class="t" style="left:2010.76px;top:2108.30px;font-size:60.6px;transform:scaleX(1.4544);color:#231f20;-webkit-text-stroke:0.7px #231f20;">c</span><span class="t" style="left:2050.81px;top:2108.30px;font-size:60.6px;transform:scaleX(1.5771);color:#231f20;-webkit-text-stroke:0.7px #231f20;">i</span><span class="t" style="left:2066.04px;top:2108.30px;font-size:60.6px;transform:scaleX(1.2826);color:#231f20;-webkit-text-stroke:0.7px #231f20;">o</span><span class="t" style="left:2103.12px;top:2108.30px;font-size:60.6px;transform:scaleX(1.2625);color:#231f20;-webkit-text-stroke:0.7px #231f20;">n</span><span class="t" style="left:2139.87px;top:2108.30px;font-size:60.6px;transform:scaleX(1.1372);color:#231f20;-webkit-text-stroke:0.7px #231f20;">a</span><span class="t" style="left:2173.50px;top:2108.30px;font-size:60.6px;transform:scaleX(1.2478);color:#231f20;-webkit-text-stroke:0.7px #231f20;">.</span></div>
<div><span class="t" style="left:2367.07px;top:2112.58px;font-size:54.6px;transform:scaleX(1.3802);color:#231f20;-webkit-text-stroke:1.5px #231f20;">V</span><span class="t" style="left:2414.90px;top:2112.58px;font-size:54.6px;transform:scaleX(1.2771);color:#231f20;-webkit-text-stroke:1.5px #231f20;">O</span><span class="t" style="left:2466.39px;top:2112.58px;font-size:54.6px;transform:scaleX(1.1467);color:#231f20;-webkit-text-stroke:1.5px #231f20;">T</span><span class="t" style="left:2502.26px;top:2112.58px;font-size:54.6px;transform:scaleX(1.0605);color:#231f20;-webkit-text-stroke:1.5px #231f20;">I</span><span class="t" style="left:2518.66px;top:2112.58px;font-size:54.6px;transform:scaleX(1.3589);color:#231f20;-webkit-text-stroke:1.5px #231f20;">A</span></div>
<div><span class="t" style="left:2370.59px;top:2160.82px;font-size:11.2px;letter-spacing:0.37px;transform:scaleX(1.2000);color:#6d6e70;">SISTEMAS DE INFORMACIÓN</span></div>
</div>
</body>
</html>
